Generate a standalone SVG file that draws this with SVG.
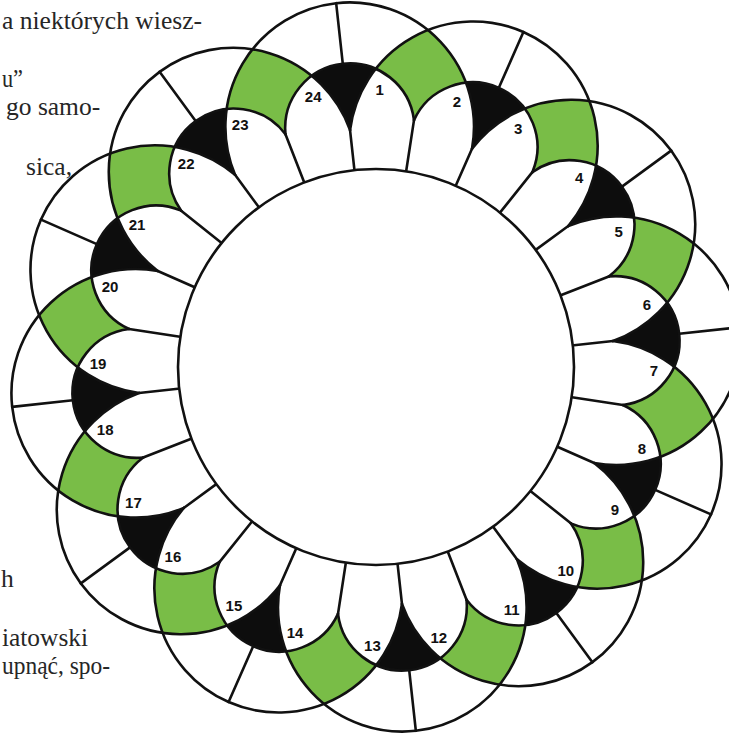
<svg xmlns="http://www.w3.org/2000/svg" width="729" height="737" viewBox="0 0 729 737">
<style>
 .txt{font-family:"Liberation Serif","Times New Roman",serif;font-size:25.5px;fill:#262626}
 .lbl{font-family:"Liberation Sans",Arial,sans-serif;font-size:15px;font-weight:bold;fill:#111;text-anchor:middle;dominant-baseline:central}
 .grn{fill:#79bd47}
 .blk{fill:#0d0d0d}
 .ln{fill:none;stroke:#111;stroke-width:2.6;stroke-linecap:round;stroke-linejoin:round}
</style>
<defs>
 <g id="cell">
  <path class="blk" d="M -32.2 -296.4 A 64.7 64.7 0 0 1 32.2 -296.4 A 124.3 124.3 0 0 0 0 -238.4 A 124.3 124.3 0 0 0 -32.2 -296.4 Z"/>
  <path class="grn" d="M 32.2 -296.4 A 124.3 124.3 0 0 1 88.23 -329.28 A 124.3 124.3 0 0 1 120.32 -272.79 A 64.7 64.7 0 0 0 64.65 -241.29 A 64.7 64.7 0 0 0 32.2 -296.4 Z"/>
 </g>
 <g id="arc">
  <path class="ln" d="M -119.2 -206.46 A 124.3 124.3 0 0 1 0 -366 A 124.3 124.3 0 0 1 119.2 -206.46"/>
  <path class="ln" d="M -64.65 -241.29 A 64.7 64.7 0 0 1 0 -305 A 64.7 64.7 0 0 1 64.65 -241.29"/>
  <path class="ln" d="M 0 -366 V -305 M 0 -238.4 V -190 M 64.65 -241.29 L 49.2 -183.5"/>
 </g>
</defs>
<rect width="729" height="737" fill="#ffffff"/>
<g id="page-text" class="txt">
 <text x="2" y="29" textLength="200" lengthAdjust="spacingAndGlyphs">a niektórych wiesz-</text>
 <text x="2" y="87" textLength="21" lengthAdjust="spacingAndGlyphs">u”</text>
 <text x="6" y="115">go samo-</text>
 <text x="26" y="175">sica,</text>
 <text x="1" y="587">h</text>
 <text x="2" y="646" textLength="86" lengthAdjust="spacingAndGlyphs">iatowski</text>
 <text x="2" y="674" textLength="108" lengthAdjust="spacingAndGlyphs">upnąć, spo-</text>
</g>
<g id="cells">
 <use href="#cell" transform="translate(376 367) rotate(-6.25)"/>
 <use href="#cell" transform="translate(376 367) rotate(23.75)"/>
 <use href="#cell" transform="translate(376 367) rotate(53.75)"/>
 <use href="#cell" transform="translate(376 367) rotate(83.75)"/>
 <use href="#cell" transform="translate(376 367) rotate(113.75)"/>
 <use href="#cell" transform="translate(376 367) rotate(143.75)"/>
 <use href="#cell" transform="translate(376 367) rotate(173.75)"/>
 <use href="#cell" transform="translate(376 367) rotate(203.75)"/>
 <use href="#cell" transform="translate(376 367) rotate(233.75)"/>
 <use href="#cell" transform="translate(376 367) rotate(263.75)"/>
 <use href="#cell" transform="translate(376 367) rotate(293.75)"/>
 <use href="#cell" transform="translate(376 367) rotate(323.75)"/>
</g>
<g id="connectors">
 <use href="#arc" transform="translate(376 367) rotate(-6.25)"/>
 <use href="#arc" transform="translate(376 367) rotate(23.75)"/>
 <use href="#arc" transform="translate(376 367) rotate(53.75)"/>
 <use href="#arc" transform="translate(376 367) rotate(83.75)"/>
 <use href="#arc" transform="translate(376 367) rotate(113.75)"/>
 <use href="#arc" transform="translate(376 367) rotate(143.75)"/>
 <use href="#arc" transform="translate(376 367) rotate(173.75)"/>
 <use href="#arc" transform="translate(376 367) rotate(203.75)"/>
 <use href="#arc" transform="translate(376 367) rotate(233.75)"/>
 <use href="#arc" transform="translate(376 367) rotate(263.75)"/>
 <use href="#arc" transform="translate(376 367) rotate(293.75)"/>
 <use href="#arc" transform="translate(376 367) rotate(323.75)"/>
</g>
<g id="hub">
 <circle cx="376" cy="367" r="198" fill="#ffffff" stroke="#111" stroke-width="2.6"/>
</g>
<g id="labels" class="lbl">
 <text x="379.6" y="89">1</text>
 <text x="457" y="101.1">2</text>
 <text x="518.1" y="128.1">3</text>
 <text x="579.1" y="177.2">4</text>
 <text x="618.6" y="231.2">5</text>
 <text x="646.8" y="304.2">6</text>
 <text x="654" y="370.6">7</text>
 <text x="641.9" y="448">8</text>
 <text x="614.9" y="509.1">9</text>
 <text x="565.8" y="570.1">10</text>
 <text x="511.8" y="609.6">11</text>
 <text x="438.8" y="637.8">12</text>
 <text x="372.4" y="645">13</text>
 <text x="295" y="632.9">14</text>
 <text x="233.9" y="605.9">15</text>
 <text x="172.9" y="556.8">16</text>
 <text x="133.4" y="502.8">17</text>
 <text x="105.2" y="429.8">18</text>
 <text x="98" y="363.4">19</text>
 <text x="110.1" y="286">20</text>
 <text x="137.1" y="224.9">21</text>
 <text x="186.2" y="163.9">22</text>
 <text x="240.2" y="124.4">23</text>
 <text x="313.2" y="96.2">24</text>
</g>
</svg>
